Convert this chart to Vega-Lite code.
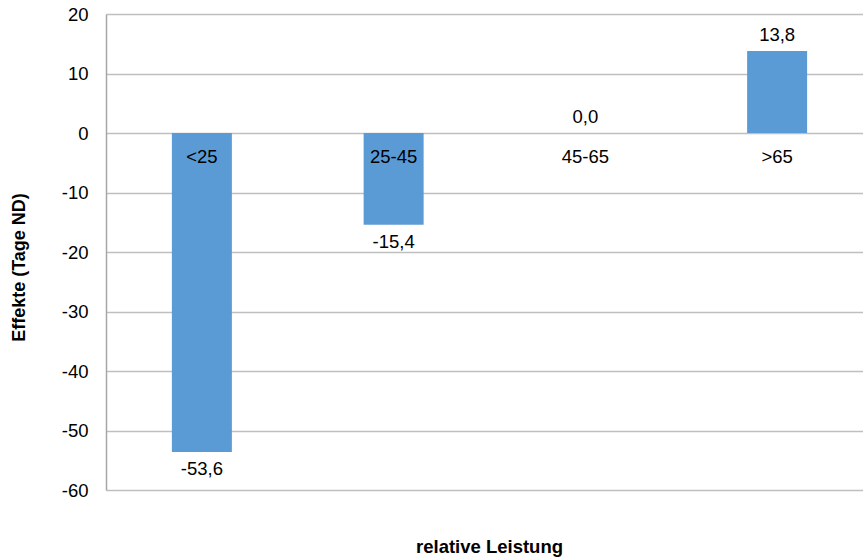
{
  "$schema": "https://vega.github.io/schema/vega-lite/v6.json",
  "width": 767,
  "height": 476,
  "autosize": {"type": "none"},
  "padding": {"left": 106, "top": 14, "right": 0, "bottom": 68},
  "config": {
    "view": {"stroke": null},
    "font": "Liberation Sans",
    "locale": {
      "number": {"decimal": ",", "thousands": ".", "grouping": [3], "currency": ["", " €"], "minus": "-"}
    }
  },
  "data": {
    "values": [
      {"gruppe": "<25", "effekt": -53.6},
      {"gruppe": "25-45", "effekt": -15.4},
      {"gruppe": "45-65", "effekt": 0.0},
      {"gruppe": ">65", "effekt": 13.8}
    ]
  },
  "encoding": {
    "x": {
      "field": "gruppe",
      "type": "nominal",
      "sort": null,
      "scale": {"paddingInner": 0, "paddingOuter": 0},
      "axis": {
        "title": "relative Leistung",
        "labels": false,
        "ticks": false,
        "domain": false,
        "titleFontSize": 18.5,
        "titleFontWeight": "bold",
        "titleColor": "#000000",
        "titleX": 383,
        "titleY": 56,
        "titleBaseline": "middle"
      }
    }
  },
  "layer": [
    {
      "mark": {"type": "bar", "color": "#5B9BD5", "size": 60},
      "encoding": {
        "y": {
          "field": "effekt",
          "type": "quantitative",
          "scale": {"domain": [-60, 20], "nice": false},
          "axis": {
            "title": "Effekte (Tage ND)",
            "values": [-60, -50, -40, -30, -20, -10, 0, 10, 20],
            "format": "d",
            "grid": true,
            "gridColor": "#BFBFBF",
            "gridWidth": 1.5,
            "domainColor": "#A6A6A6",
            "domainWidth": 1.5,
            "ticks": false,
            "labelFontSize": 18.5,
            "labelColor": "#000000",
            "labelPadding": 18,
            "titleFontSize": 18,
            "titleFontWeight": "bold",
            "titleColor": "#000000",
            "titleX": -87,
            "titleY": 253,
            "titleBaseline": "middle"
          }
        }
      }
    },
    {
      "mark": {"type": "text", "fontSize": 18.5, "color": "#000000", "dy": 24},
      "encoding": {
        "y": {"datum": 0, "type": "quantitative"},
        "text": {"field": "gruppe"}
      }
    },
    {
      "transform": [{"filter": "datum.effekt >= 0"}],
      "mark": {"type": "text", "fontSize": 18.5, "color": "#000000", "dy": -16},
      "encoding": {
        "y": {"field": "effekt", "type": "quantitative"},
        "text": {"field": "effekt", "type": "quantitative", "format": ".1f"}
      }
    },
    {
      "transform": [{"filter": "datum.effekt < 0"}],
      "mark": {"type": "text", "fontSize": 18.5, "color": "#000000", "dy": 17},
      "encoding": {
        "y": {"field": "effekt", "type": "quantitative"},
        "text": {"field": "effekt", "type": "quantitative", "format": ".1f"}
      }
    }
  ]
}
